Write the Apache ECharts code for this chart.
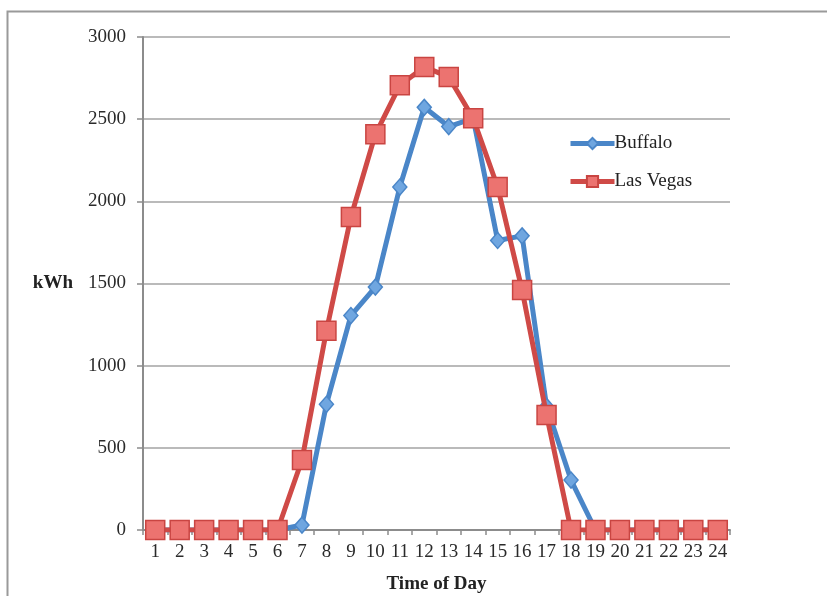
<!DOCTYPE html>
<html><head><meta charset="utf-8">
<script src="https://cdn.jsdelivr.net/npm/echarts@6/dist/echarts.min.js"></script>
<style>html,body{margin:0;padding:0;background:#fff}#c{width:827px;height:596px}</style>
</head><body><div id="c"></div>
<script>
const hours = ['1','2','3','4','5','6','7','8','9','10','11','12','13','14','15','16','17','18','19','20','21','22','23','24'];
const buffalo = [0,0,0,0,0,0,30,765,1305,1478,2087,2572,2455,2505,1762,1790,752,304,0,0,0,0,0,0];
const lasVegas = [0,0,0,0,0,0,426,1212,1905,2408,2706,2818,2757,2505,2087,1460,700,0,0,0,0,0,0,0];
const yTicks = {min:0, max:3000, interval:500};

const chart = echarts.init(document.getElementById('c'), null, {renderer:'canvas'});
const font = 'Liberation Serif';
chart.setOption({
  animation:false,
  backgroundColor:'#fff',
  graphic:[
    {type:'polyline', shape:{points:[[7.5,596],[7.5,11.5],[827,11.5]]}, style:{stroke:'#9a9a9a', lineWidth:2, fill:null}, silent:true}
  ],
  grid:{left:143, top:37, right:97, bottom:66, containLabel:false, outerBoundsMode:'none'},
  legend:{
    orient:'vertical', left:563, top:129, itemGap:19, itemWidth:44, itemHeight:14,
    lineStyle:{width:5},
    textStyle:{fontFamily:font, fontSize:19, color:'#222', padding:[0,0,0,-5]},
    data:['Buffalo','Las Vegas']
  },
  xAxis:{
    type:'category', data:hours, boundaryGap:true,
    name:'Time of Day', nameLocation:'middle', nameGap:45,
    nameTextStyle:{fontFamily:font, fontSize:19, fontWeight:'bold', color:'#222'},
    axisLine:{lineStyle:{color:'#8c8c8c', width:2}},
    axisTick:{show:true, length:5, lineStyle:{color:'#8c8c8c', width:1.5}},
    axisLabel:{fontFamily:font, fontSize:19, color:'#2a2a2a', margin:13, interval:0}
  },
  yAxis:{
    type:'value', min:yTicks.min, max:yTicks.max, interval:yTicks.interval,
    name:'kWh', nameLocation:'middle', nameGap:70, nameRotate:0,
    nameTextStyle:{fontFamily:font, fontSize:19, fontWeight:'bold', color:'#222'},
    axisLine:{show:true, lineStyle:{color:'#8c8c8c', width:2}},
    axisTick:{show:true, length:6, lineStyle:{color:'#8c8c8c', width:1.5}},
    axisLabel:{fontFamily:font, fontSize:19, color:'#2a2a2a', margin:17, formatter:v => String(v)},
    splitLine:{lineStyle:{color:'#a3a3a3', width:1.6}}
  },
  series:[
    {name:'Buffalo', type:'line', data:buffalo, symbol:'diamond', symbolSize:[14,16],
     lineStyle:{color:'#4a86c8', width:5}, itemStyle:{color:'#6fa6e0', borderColor:'#4a86c8', borderWidth:1.5},
     z:2},
    {name:'Las Vegas', type:'line', data:lasVegas, symbol:'rect', symbolSize:19,
     lineStyle:{color:'#cf4a47', width:5}, itemStyle:{color:'#ec7370', borderColor:'#c94542', borderWidth:1.5},
     z:3}
  ]
});
</script></body></html>
